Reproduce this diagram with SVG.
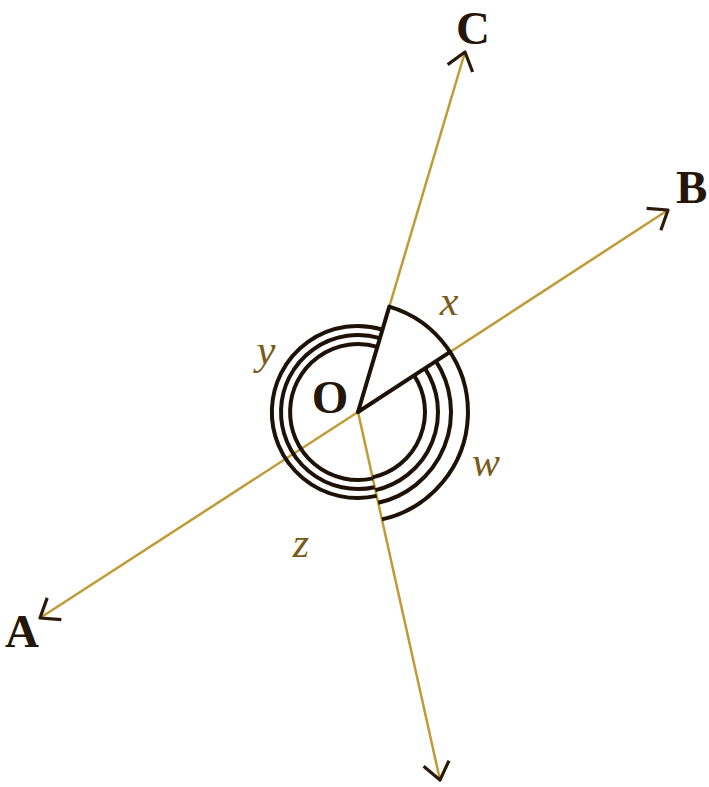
<svg xmlns="http://www.w3.org/2000/svg" width="709" height="787" viewBox="0 0 709 787">
<style>
.ray{stroke:#c09a34;stroke-width:2.5;fill:none}
.arc{stroke:#1e1206;stroke-width:4;fill:none}
.bold{stroke:#1e1206;stroke-width:4;fill:none;stroke-linecap:round}
.cap{font-family:"Liberation Serif",serif;font-size:47px;font-weight:bold;fill:#241608}
.ang{font-family:"Liberation Serif",serif;font-style:italic;font-size:42px;fill:#7a5a18}
</style>
<defs>
<marker id="arr" markerUnits="userSpaceOnUse" markerWidth="40" markerHeight="40" viewBox="-20 -20 40 40" refX="0" refY="0" orient="auto" overflow="visible">
<path d="M-17,-13 L0,0 L-17,13" fill="none" stroke="#2a1a08" stroke-width="3.2" stroke-linejoin="round"/>
</marker>
</defs>
<rect width="709" height="787" fill="#ffffff"/>
<g id="connectors">
<line id="ray-OA" class="ray" x1="358" y1="412" x2="40" y2="618" marker-end="url(#arr)"/>
<line id="ray-OB" class="ray" x1="358" y1="412" x2="668" y2="210" marker-end="url(#arr)"/>
<line id="ray-OC" class="ray" x1="358" y1="412" x2="465" y2="52" marker-end="url(#arr)"/>
<line id="ray-OD" class="ray" x1="358" y1="412" x2="440" y2="780" marker-end="url(#arr)"/>
</g>
<g id="angle-arcs">
<line class="bold" x1="358" y1="412" x2="389.3" y2="306.6"/>
<line class="bold" x1="358" y1="412" x2="450.2" y2="351.9"/>
<path class="arc" d="M389.3,306.6 A110,110 0 0 1 381.9,519.4"/>
<path class="arc" d="M414.1,375.4 A67,67 0 0 1 372.6,477.4"/>
<path class="arc" d="M425.0,368.3 A80,80 0 0 1 375.4,490.1"/>
<path class="arc" d="M435.9,361.2 A93,93 0 0 1 378.2,502.8"/>
<path class="arc" d="M376.7,495.9 A86,86 0 1 1 382.5,329.6"/>
<path class="arc" d="M374.7,487.2 A77,77 0 1 1 379.9,338.2"/>
<path class="arc" d="M372.8,478.4 A68,68 0 1 1 377.4,346.8"/>
</g>
<g id="node-A"><text class="cap" x="5" y="647">A</text></g>
<g id="node-B"><text class="cap" x="676" y="203">B</text></g>
<g id="node-C"><text class="cap" x="473" y="44" text-anchor="middle">C</text></g>
<g id="node-O"><text class="cap" x="330" y="413" text-anchor="middle" font-size="48" font-weight="normal">O</text></g>
<g id="label-x"><text class="ang" x="449" y="315" text-anchor="middle">x</text></g>
<g id="label-y"><text class="ang" x="266" y="364" text-anchor="middle">y</text></g>
<g id="label-w"><text class="ang" x="486" y="476" text-anchor="middle">w</text></g>
<g id="label-z"><text class="ang" x="301" y="557" text-anchor="middle">z</text></g>
</svg>
